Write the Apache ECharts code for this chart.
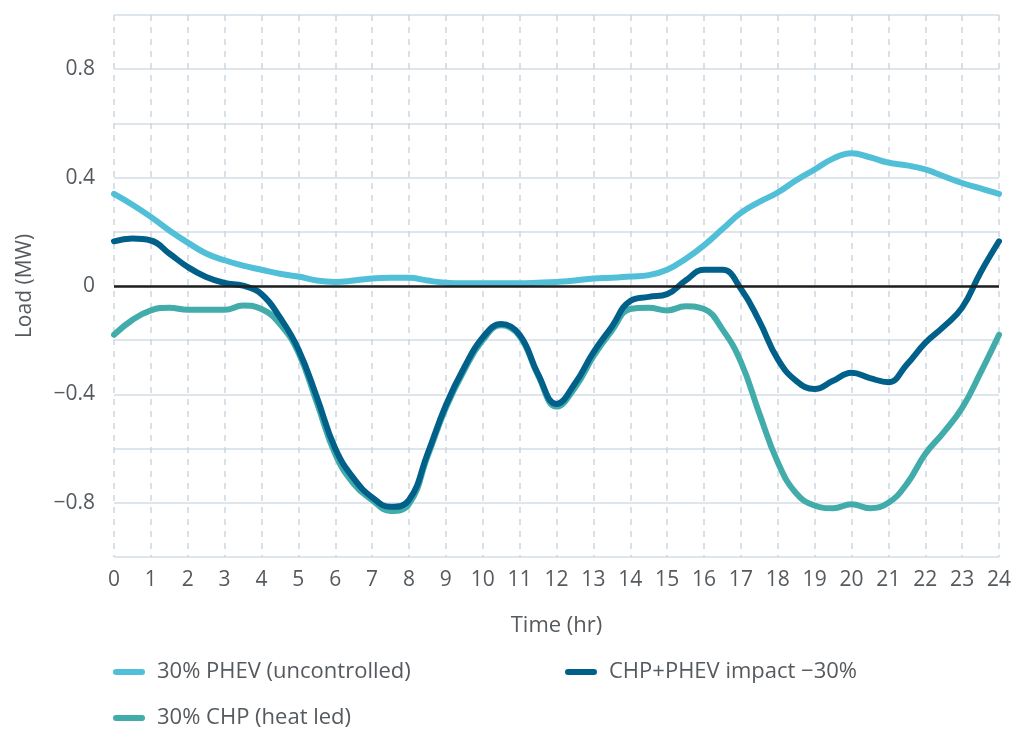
<!DOCTYPE html>
<html>
<head>
<meta charset="utf-8">
<script src="https://cdn.jsdelivr.net/npm/echarts@6/dist/echarts.min.js"></script>
<style>
  html, body { margin: 0; padding: 0; background: #fff; }
  #chart { width: 1029px; height: 729px; }
</style>
</head>
<body>
<div id="chart"></div>
<script>
// half-hour steps, 0 .. 24 h
var hours = [0,0.5,1,1.5,2,2.5,3,3.5,4,4.5,5,5.5,6,6.5,7,7.5,8,8.5,9,9.5,10,10.5,11,11.5,12,
             12.5,13,13.5,14,14.5,15,15.5,16,16.5,17,17.5,18,18.5,19,19.5,20,20.5,21,21.5,22,22.5,23,23.5,24];

var phev = [0.34,0.30,0.255,0.205,0.16,0.12,0.095,0.075,0.06,0.045,0.035,0.02,0.015,0.02,0.028,0.03,0.03,0.02,0.012,0.01,0.01,0.01,0.01,0.012,0.015,
            0.02,0.028,0.03,0.035,0.04,0.06,0.1,0.15,0.21,0.27,0.31,0.345,0.39,0.43,0.47,0.49,0.475,0.455,0.445,0.43,0.405,0.38,0.36,0.34];

var chp = [-0.18,-0.125,-0.09,-0.08,-0.088,-0.088,-0.088,-0.072,-0.085,-0.14,-0.245,-0.43,-0.62,-0.73,-0.79,-0.83,-0.805,-0.63,-0.45,-0.31,-0.2,-0.145,-0.185,-0.33,-0.445,
           -0.375,-0.26,-0.165,-0.085,-0.08,-0.09,-0.075,-0.085,-0.16,-0.28,-0.47,-0.65,-0.765,-0.81,-0.82,-0.805,-0.82,-0.8,-0.73,-0.62,-0.54,-0.45,-0.32,-0.18];

var impact = [0.165,0.175,0.168,0.12,0.07,0.033,0.011,0.001,-0.03,-0.116,-0.233,-0.41,-0.6,-0.71,-0.78,-0.815,-0.79,-0.62,-0.44,-0.3,-0.19,-0.14,-0.18,-0.325,-0.435,
              -0.36,-0.245,-0.15,-0.055,-0.04,-0.03,0.02,0.06,0.06,-0.01,-0.13,-0.27,-0.35,-0.38,-0.35,-0.32,-0.34,-0.355,-0.29,-0.21,-0.15,-0.08,0.05,0.165];

var names = ['30% PHEV (uncontrolled)', '30% CHP (heat led)', 'CHP+PHEV impact \u221230%'];
var colors = ['#50bfd7', '#42acaa', '#00608a'];
var yLabels = [0.8, 0.4, 0, -0.4, -0.8];

function pairs(ys) {
    var out = [];
    for (var i = 0; i < hours.length; i++) out.push([hours[i], ys[i]]);
    return out;
}

var font = 'Open Sans';
var txt = '#555a5f';
var pill = 'path://M3,0 H29 A3,3 0 0 1 29,6 H3 A3,3 0 0 1 3,0 Z';

function legendAt(left, top, name) {
    return {
        left: left, top: top, data: [name], icon: pill,
        itemWidth: 32, itemHeight: 7, itemGap: 12,
        textStyle: { fontFamily: font, fontSize: 22, color: txt, padding: [0, 0, 0, 7] }
    };
}

var myChart = echarts.init(document.getElementById('chart'));

var option = {
    animation: false,
    color: colors,
    grid: { left: 114, right: 30, top: 15, bottom: 172 },
    legend: [
        legendAt(108, 656, names[0]),
        legendAt(560, 656, names[2]),
        legendAt(108, 702, names[1])
    ],
    xAxis: {
        type: 'value', min: 0, max: 24, interval: 1,
        name: 'Time (hr)', nameLocation: 'middle', nameGap: 58,
        nameTextStyle: { fontFamily: font, fontSize: 22, color: txt },
        axisLine: { show: false },
        axisTick: { show: false },
        axisLabel: { fontFamily: font, fontSize: 21, color: txt, margin: 13 },
        splitLine: { show: true, lineStyle: { color: '#cad7e0', width: 1.5, type: [6, 6] } }
    },
    yAxis: {
        type: 'value', min: -1, max: 1, interval: 0.2,
        name: 'Load (MW)', nameLocation: 'middle', nameGap: 78,
        nameTextStyle: { fontFamily: font, fontSize: 21, color: txt },
        axisLine: { show: false },
        axisTick: { show: false },
        axisLabel: {
            fontFamily: font, fontSize: 21, color: txt, margin: 19,
            formatter: function (v) {
                var r = Math.round(v * 10) / 10;
                if (yLabels.indexOf(r) < 0) return '';
                return r < 0 ? '\u2212' + Math.abs(r) : String(r);
            }
        },
        splitLine: { lineStyle: { color: '#d3dee6', width: 1.5 } }
    },
    series: [
        {
            name: names[0], type: 'line', data: pairs(phev),
            smooth: 0.45, showSymbol: false,
            lineStyle: { width: 6, color: colors[0], cap: 'round' },
            markLine: {
                silent: true, symbol: 'none', label: { show: false },
                lineStyle: { color: '#1e1e1e', width: 2.5, type: 'solid' },
                data: [{ yAxis: 0 }]
            }
        },
        {
            name: names[1], type: 'line', data: pairs(chp),
            smooth: 0.45, showSymbol: false,
            lineStyle: { width: 6, color: colors[1], cap: 'round' }
        },
        {
            name: names[2], type: 'line', data: pairs(impact),
            smooth: 0.45, showSymbol: false,
            lineStyle: { width: 6, color: colors[2], cap: 'round' }
        }
    ]
};

myChart.setOption(option);
</script>
</body>
</html>
